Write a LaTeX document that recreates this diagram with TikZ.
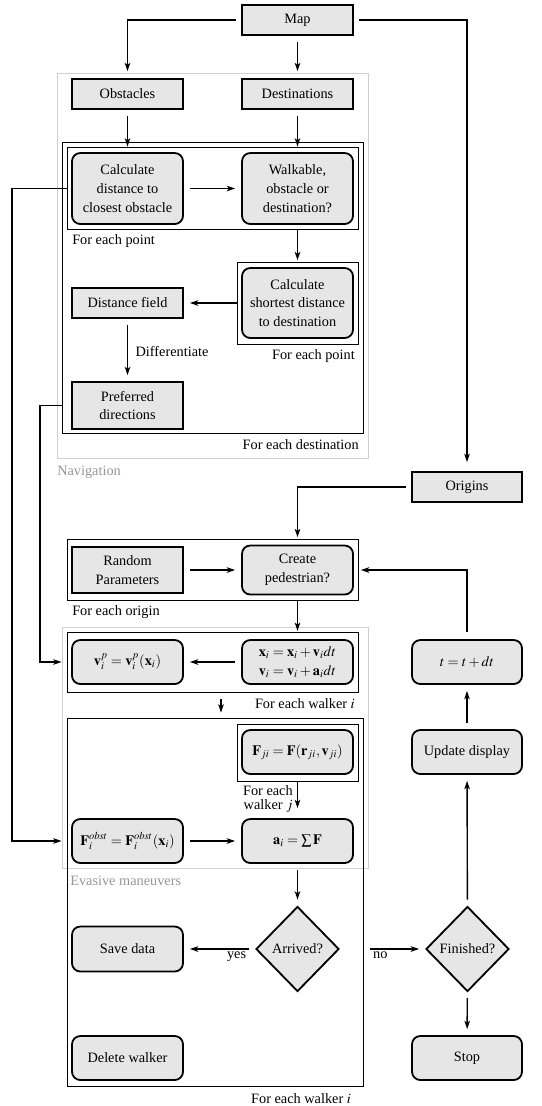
\documentclass[tikz,border=0pt]{standalone}
\usepackage{mathptmx}
\usepackage{fontspec}
\setmainfont{Liberation Serif}
\usetikzlibrary{shapes.geometric,arrows.meta,fit}
\definecolor{boxfill}{RGB}{230,230,230}
\definecolor{framegray}{RGB}{208,208,208}
\definecolor{labelgray}{RGB}{150,150,150}
\tikzset{
  box/.style={draw, line width=1.3pt, fill=boxfill, minimum width=79.92pt, inner sep=1pt, align=center},
  rbox/.style={box, rounded corners=6pt},
  rbr/.style={rbox, minimum width=79.2pt},
  brr/.style={box, minimum width=79.2pt},
  dec/.style={diamond, draw, line width=1.3pt, fill=boxfill, minimum width=59.8pt, minimum height=61.2pt, inner sep=0pt},
  frame/.style={draw, line width=0.6pt, inner sep=0pt},
  gframe/.style={draw=framegray, line width=0.65pt, inner sep=0pt},
  lbl/.style={inner sep=0pt},
  arr/.style={draw, line width=1pt, -{Stealth[length=6pt,width=4pt,inset=1.5pt]}},
  gap/.style={shorten <=4.3pt, shorten >=4.3pt}
}
\begin{document}
\begin{tikzpicture}[x=0.72pt,y=-0.72pt,font=\fontsize{10.3}{13.5}\selectfont]
\useasboundingbox (0,0) rectangle (541,1106);
% frames
\node[gframe, fit={(57,73) (368,458)}] (nav) {};
\node[frame, fit={(62,142) (363,433)}] (fdest) {};
\node[frame, fit={(67,147) (358,229)}] (fpoint1) {};
\node[frame, fit={(237,262) (358,344)}] (fpoint2) {};
\node[frame, fit={(67,539) (358,600)}] (forigin) {};
\node[gframe, fit={(62,627) (368,868)}] (evasive) {};
\node[frame, fit={(67,632) (358,692)}] (fwalk1) {};
\node[frame, fit={(67,718) (363,1086)}] (fwalk2) {};
\node[frame, fit={(237,724) (358,781)}] (fwalkj) {};
% nodes
\node[box, minimum height=21.6pt] (map) at (297.5,20) {Map};
\node[box, minimum height=21.6pt] (obstacles) at (127.5,94) {Obstacles};
\node[box, minimum height=21.6pt] (destinations) at (297.5,94) {Destinations};
\node[rbox, minimum height=51.12pt] (calcdist) at (127.5,188.5) {Calculate\\distance to\\closest obstacle};
\node[rbox, minimum height=51.12pt] (walkable) at (297.5,188.5) {Walkable,\\obstacle or\\destination?};
\node[rbox, minimum height=50.4pt] (shortest) at (297.5,303) {Calculate\\shortest distance\\to destination};
\node[box, minimum height=21.6pt] (distfield) at (127.5,303) {Distance field};
\node[box, minimum height=33.84pt] (preferred) at (127.5,405.5) {Preferred\\directions};
\node[brr, minimum height=21.6pt] (origins) at (467,487) {Origins};
\node[box, minimum height=33.12pt] (random) at (127.5,570) {Random\\Parameters};
\node[rbox, minimum height=35.28pt] (create) at (297.5,570) {Create\\pedestrian?};
\node[rbox, minimum height=31.68pt] (vp) at (127.5,662) {$\mathbf{v}_i^p = \mathbf{v}_i^p(\mathbf{x}_i)$};
\node[rbox, minimum height=31.68pt] (xi) at (297.5,662) {$\mathbf{x}_i = \mathbf{x}_i + \mathbf{v}_i dt$\\$\mathbf{v}_i = \mathbf{v}_i + \mathbf{a}_i dt$};
\node[rbr, minimum height=31.68pt] (tdt) at (467,662) {$t = t + dt$};
\node[rbox, minimum height=31.68pt] (fji) at (297.5,752) {$\mathbf{F}_{ji} = \mathbf{F}(\mathbf{r}_{ji}, \mathbf{v}_{ji})$};
\node[rbr, minimum height=31.68pt] (update) at (467,752) {Update display};
\node[rbox, minimum height=31.68pt] (fobst) at (127.5,841) {$\mathbf{F}_i^{obst} = \mathbf{F}_i^{obst}(\mathbf{x}_i)$};
\node[rbox, minimum height=31.68pt] (ai) at (297.5,841) {$\mathbf{a}_i = \textstyle\sum \mathbf{F}$};
\node[dec] (arrived) at (297.5,949) {Arrived?};
\node[dec] (finished) at (467.5,949) {Finished?};
\node[rbox, minimum height=32.4pt] (save) at (127.5,949) {Save data};
\node[rbox, minimum height=31.68pt] (delete) at (127.5,1058) {Delete walker};
\node[rbr, minimum height=31.68pt] (stop) at (467,1058) {Stop};
% labels
\node[lbl, anchor=west] (l1) at (72,241) {For each point};
\node[lbl, anchor=east] (l2) at (355,356) {For each point};
\node[lbl, anchor=east] (l3) at (359,445) {For each destination};
\node[lbl, anchor=west, text=labelgray] (l4) at (57,472) {Navigation};
\node[lbl, anchor=west] (l5) at (72,612) {For each origin};
\node[lbl, anchor=east] (l6) at (355,704) {For each walker $i$};
\node[lbl, anchor=west, text=labelgray] (l7) at (70,881) {Evasive maneuvers};
\node[lbl] (l8) at (301,1099) {For each walker $i$};
\node[lbl, anchor=east, align=right, font=\fontsize{10.3}{10.3}\selectfont] (l9) at (293,799) {For each\\walker $j$};
% coordinates
\coordinate (L1) at (12,0);
\coordinate (L2) at (40,0);
\coordinate (S) at (221,0);
% connectors
\draw[arr, shorten <=3.6pt, shorten >=1pt] (map.west) -| (obstacles.north |- nav.north);
\draw[arr, shorten <=4.3pt, shorten >=1pt] (map.south) -- (destinations.north |- nav.north);
\draw[arr, shorten <=3.6pt, shorten >=6.5pt] (map.east) -| (origins.north);
\draw[arr, shorten <=4.3pt] (obstacles.south) -- (obstacles.south |- fpoint1.north);
\draw[arr, shorten <=4.3pt] (destinations.south) -- (destinations.south |- fpoint1.north);
\draw[arr, gap] (calcdist) -- (walkable);
\draw[arr, shorten >=1pt] (walkable.south |- fpoint1.south) -- (walkable.south |- fpoint2.north);
\draw[arr, shorten >=4.3pt] (fpoint2.west) -- (distfield.east);
\draw[arr, gap] (distfield) -- node[right=2pt, pos=0.52] {Differentiate} (preferred);
\draw[arr] (fpoint1.west |- calcdist) -- (L1 |- calcdist) -- (L1 |- fobst) -- (evasive.west |- fobst);
\draw[arr] (fdest.west |- preferred) -- (L2 |- preferred) -- (L2 |- vp) -- (evasive.west |- vp);
\draw[arr, shorten <=3.6pt, shorten >=1pt] (origins.west) -| (create.north |- forigin.north);
\draw[arr, gap] (random) -- (create);
\draw[arr, shorten >=0.5pt] (create.south |- forigin.south) -- (create.south |- fwalk1.north);
\draw[arr, gap] (xi) -- (vp);
\draw[arr, shorten <=5pt, shorten >=3.6pt] (S |- fwalk1.south) -- (S |- fwalk2.north);
\draw[arr, shorten >=7.2pt] (fwalkj.south) -- (ai.north);
\draw[arr, gap] (fobst) -- (ai);
\draw[arr, gap] (ai) -- (arrived);
\draw[arr, gap] (arrived) -- node[below, pos=0.26, inner sep=1.5pt] {yes} (save);
\draw[arr, shorten <=5pt, shorten >=4.3pt] (fwalk2.east |- finished) -- node[pos=0, anchor=north west, xshift=5pt, inner sep=1.5pt] {no} (finished);
\draw[arr, gap] (finished) -- (stop);
\draw[arr, gap] (finished) -- (update);
\draw[arr, gap] (update) -- (tdt);
\draw[arr, shorten <=5pt, shorten >=5pt] (tdt.north) |- (create.east);
\end{tikzpicture}
\end{document}
